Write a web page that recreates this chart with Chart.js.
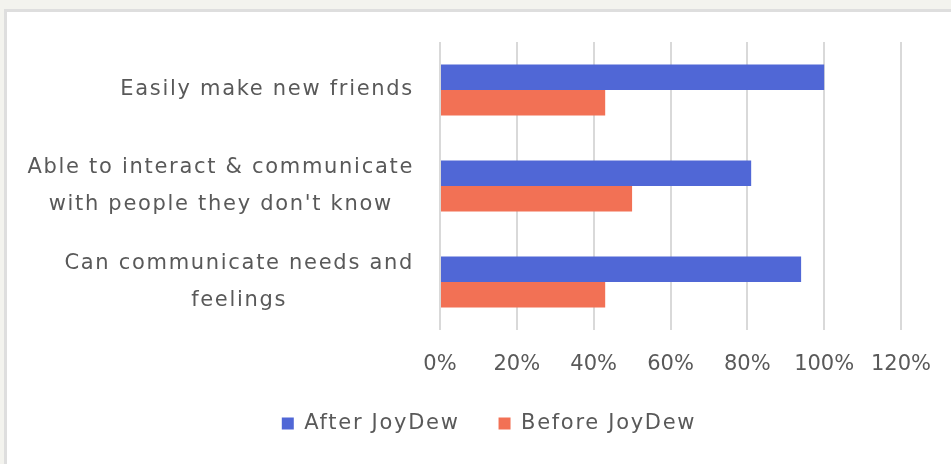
<!DOCTYPE html>
<html>
<head>
<meta charset="utf-8">
<script src="https://cdn.jsdelivr.net/npm/chart.js@4/dist/chart.umd.min.js"></script>
<style>
  html, body { margin: 0; padding: 0; background: #f3f3ee; overflow: hidden; }
  #card { position: absolute; left: 4px; top: 9px; width: 1000px; height: 500px;
          background: #fff; border-left: 3px solid #dedede; border-top: 3px solid #dedede; }
  #wrap { position: absolute; left: 0; top: 0; width: 951px; height: 464px; }
</style>
</head>
<body>
<div id="card"></div>
<div id="wrap"><canvas id="chart"></canvas></div>
<script>
const categories = [
  ['Easily make new friends'],
  ['Able to interact & communicate', "with people they don't know"],
  ['Can communicate needs and', 'feelings']
];
const afterJoyDew = [100, 81, 94];
const beforeJoyDew = [43, 50, 43];
const tickLabels = ['0%', '20%', '40%', '60%', '80%', '100%', '120%'];

const textColor = '#595959';
const fontFamily = '"DejaVu Sans", sans-serif';
const fontSize = 21;
const spacing = '1.7px';

// draw category labels: block right aligned, lines centered inside the block
const categoryLabels = {
  id: 'categoryLabels',
  afterDraw(chart) {
    const ctx = chart.ctx;
    const y = chart.scales.y;
    const right = y.right - 26;
    const lineH = 37;
    ctx.save();
    ctx.font = fontSize + 'px ' + fontFamily;
    ctx.letterSpacing = spacing;
    ctx.fillStyle = textColor;
    ctx.textAlign = 'center';
    ctx.textBaseline = 'middle';
    categories.forEach((lines, i) => {
      const cy = y.getPixelForTick(i);
      const w = Math.max(...lines.map(l => ctx.measureText(l).width));
      const cx = right - w / 2;
      const top = cy - (lines.length - 1) * lineH / 2;
      lines.forEach((l, j) => ctx.fillText(l, cx, top + j * lineH));
    });
    ctx.letterSpacing = '0px';
    ctx.restore();
  }
};

const chart = new Chart(document.getElementById('chart').getContext('2d'), {
  type: 'bar',
  data: {
    labels: categories,
    datasets: [
      { label: 'After JoyDew', data: afterJoyDew, backgroundColor: '#5067d6' },
      { label: 'Before JoyDew', data: beforeJoyDew, backgroundColor: '#f27155' }
    ]
  },
  options: {
    indexAxis: 'y',
    responsive: true,
    maintainAspectRatio: false,
    animation: false,
    categoryPercentage: 0.53,
    barPercentage: 1,
    layout: { padding: { top: 42, right: 50, left: 77, bottom: 20 } },
    scales: {
      x: {
        min: 0, max: 120,
        ticks: {
          stepSize: 20,
          padding: 22,
          maxRotation: 0,
          color: textColor,
          font: { family: fontFamily, size: fontSize },
          callback: (v, i) => tickLabels[i]
        },
        grid: { color: '#d9d9d9', lineWidth: 2, drawTicks: false },
        border: { display: false },
        afterFit(scale) { scale.paddingLeft = 0; scale.paddingRight = 0; scale.height = 44; }
      },
      y: {
        ticks: { display: false },
        grid: { display: false },
        border: { display: false },
        afterFit(scale) { scale.width = 363; }
      }
    },
    plugins: {
      legend: {
        position: 'bottom',
        labels: {
          color: textColor,
          font: { family: fontFamily, size: fontSize },
          boxWidth: 12, boxHeight: 12,
          padding: 39
        }
      },
      tooltip: { enabled: false }
    }
  },
  plugins: [categoryLabels]
});

// legend text is letter-spaced like the original
const lg = chart.legend;
['fit', 'draw'].forEach(fn => {
  const orig = lg[fn];
  lg[fn] = function (...args) {
    this.ctx.letterSpacing = spacing;
    const r = orig.apply(this, args);
    this.ctx.letterSpacing = '0px';
    return r;
  };
});
chart.update();
</script>
</body>
</html>
